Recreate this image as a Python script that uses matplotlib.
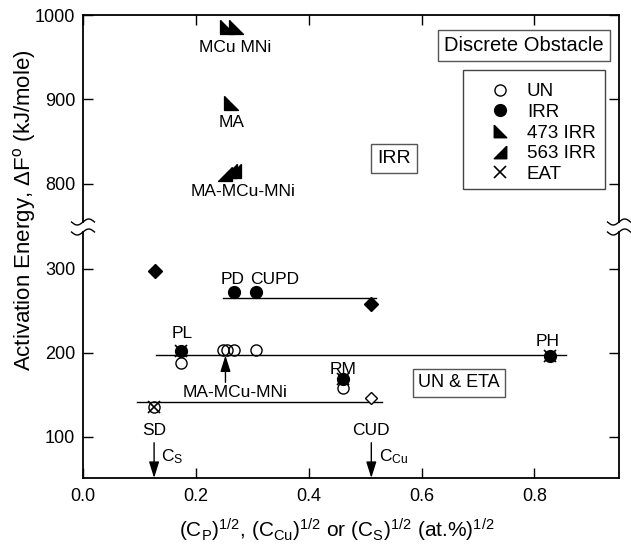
import numpy as np
import matplotlib
matplotlib.use("Agg")
import matplotlib.pyplot as plt
from matplotlib.patches import Rectangle
from matplotlib.lines import Line2D

plt.rcParams['font.family'] = ['Liberation Sans', 'DejaVu Sans']
plt.rcParams['mathtext.fontset'] = 'custom'
plt.rcParams['mathtext.rm'] = 'Liberation Sans'
plt.rcParams['mathtext.it'] = 'Liberation Sans:italic'

# ---------------- data ----------------
# lower panel (kJ/mole)
un_x = [0.173, 0.248, 0.256, 0.268, 0.307, 0.460, 0.126]
un_y = [188.5, 203, 203, 203, 203, 158, 136]
irr_x = [0.267, 0.307, 0.173, 0.460, 0.827]
irr_y = [272, 272, 202, 169, 196]
eat_x = [0.173, 0.460, 0.827, 0.126]
eat_y = [202, 169, 196, 136]
dia_fill_x = [0.127, 0.511]
dia_fill_y = [298, 258]
dia_open_x = [0.511]
dia_open_y = [146]
# upper panel
irr473_x = [0.255, 0.272, 0.262]
irr473_y = [986, 986, 896]
irr563_x = [0.251, 0.260, 0.268]
irr563_y = [812, 815, 815]
# horizontal guide lines
guide_y = [265, 197, 141]
guide_x0 = [0.248, 0.129, 0.096]
guide_x1 = [0.520, 0.856, 0.530]

xticks = [0.0, 0.2, 0.4, 0.6, 0.8]
xticklabels = ["0.0", "0.2", "0.4", "0.6", "0.8"]
low_yticks = [100, 200, 300]
up_yticks = [800, 900, 1000]

W, H = 631, 545
fig = plt.figure(figsize=(W / 100, H / 100), dpi=100)

def fx(px):
    return px / W

def fy(py):
    return 1 - py / H

L, R = fx(83), fx(619)
ax_up = fig.add_axes([L, fy(222), R - L, fy(15) - fy(222)])
ax_lo = fig.add_axes([L, fy(478), R - L, fy(232) - fy(478)])

for ax in (ax_up, ax_lo):
    ax.set_xlim(0, 0.95)
    for s in ax.spines.values():
        s.set_linewidth(1.3)
    ax.tick_params(direction='in', length=7.2, width=1.0, labelsize=13, pad=5.5,
                   right=True, top=True)
    ax.tick_params(axis='x', pad=7.5)
    ax.set_xticks(xticks)

ax_up.set_ylim(755, 1000)
ax_lo.set_ylim(51, 344)
ax_up.spines['bottom'].set_visible(False)
ax_lo.spines['top'].set_visible(False)
ax_up.tick_params(bottom=False, labelbottom=False, top=True)
ax_lo.tick_params(top=False, bottom=True)
ax_lo.set_xticklabels(xticklabels)
ax_up.set_yticks(up_yticks)
ax_lo.set_yticks(low_yticks)

# --- lower panel marks
for y, x0, x1 in zip(guide_y, guide_x0, guide_x1):
    ax_lo.plot([x0, x1], [y, y], color='black', lw=1.0, zorder=2)

ax_lo.plot(un_x, un_y, 'o', ms=8, mfc='none', mec='black', mew=1.0, zorder=3)
ax_lo.plot(irr_x, irr_y, 'o', ms=8.5, mfc='black', mec='black', zorder=4)
ax_lo.plot(eat_x, eat_y, 'x', ms=9, mec='black', mew=1.2, zorder=5)
ax_lo.plot(dia_fill_x, dia_fill_y, 'D', ms=7, mfc='black', mec='black', zorder=4)
ax_lo.plot(dia_open_x, dia_open_y, 'D', ms=6.5, mfc='white', mec='black', mew=1.0, zorder=4)

# --- upper panel marks
m473 = [(-1, 1), (-1, -1), (1, -1), (-1, 1)]
m563 = [(1, 1), (1, -1), (-1, -1), (1, 1)]
ax_up.plot(irr473_x, irr473_y, linestyle='none', marker=m473, ms=10, mfc='black', mec='black', zorder=4)
ax_up.plot(irr563_x, irr563_y, linestyle='none', marker=m563, ms=10, mfc='black', mec='black', zorder=4)

# --- annotations
fs = 12.5
ax_up.text(0.269, 961, "MCu MNi", ha='center', va='center', fontsize=fs)
ax_up.text(0.264, 873, "MA", ha='center', va='center', fontsize=fs)
ax_up.text(0.284, 791, "MA-MCu-MNi", ha='center', va='center', fontsize=fs)
ax_up.text(0.551, 830, "IRR", ha='center', va='center', fontsize=14,
           bbox=dict(boxstyle='square,pad=0.3', fc='white', ec='#555555', lw=1.0))
ax_up.text(0.781, 964, "Discrete Obstacle", ha='center', va='center', fontsize=14.5,
           bbox=dict(boxstyle='square,pad=0.3', fc='white', ec='#555555', lw=1.0))

ax_lo.text(0.266, 288, "PD", ha='center', va='center', fontsize=fs)
ax_lo.text(0.340, 288, "CUPD", ha='center', va='center', fontsize=fs)
ax_lo.text(0.176, 223, "PL", ha='center', va='center', fontsize=fs)
ax_lo.text(0.461, 180, "RM", ha='center', va='center', fontsize=fs)
ax_lo.text(0.824, 213, "PH", ha='center', va='center', fontsize=fs)
ax_lo.text(0.270, 153, "MA-MCu-MNi", ha='center', va='center', fontsize=fs)
ax_lo.text(0.126, 107, "SD", ha='center', va='center', fontsize=fs)
ax_lo.text(0.511, 107, "CUD", ha='center', va='center', fontsize=fs)
ax_lo.text(0.139, 76, r"C$_\mathregular{S}$", ha='left', va='center', fontsize=fs)
ax_lo.text(0.524, 76, r"C$_\mathregular{Cu}$", ha='left', va='center', fontsize=fs)
ax_lo.text(0.666, 164.5, "UN & ETA", ha='center', va='center', fontsize=13,
           bbox=dict(boxstyle='square,pad=0.3', fc='white', ec='#555555', lw=1.0))

arrow = dict(arrowstyle='-|>,head_length=0.7,head_width=0.22', color='black', lw=1.0,
             shrinkA=0, shrinkB=0, mutation_scale=14)
ax_lo.annotate('', xy=(0.126, 51), xytext=(0.126, 93), arrowprops=arrow)
ax_lo.annotate('', xy=(0.511, 51), xytext=(0.511, 93), arrowprops=arrow)
ax_lo.annotate('', xy=(0.2525, 197), xytext=(0.2525, 165), arrowprops=arrow)

# --- axis labels
fig.text(fx(337), fy(538),
         r"(C$_\mathregular{P}$)$^\mathregular{1/2}$, (C$_\mathregular{Cu}$)$^\mathregular{1/2}$ or "
         r"(C$_\mathregular{S}$)$^\mathregular{1/2}$ (at.%)$^\mathregular{1/2}$",
         ha='center', va='baseline', fontsize=15)
fig.text(fx(25), fy(210), r"Activation Energy, $\Delta$F$^\mathregular{o}$ (kJ/mole)",
         rotation=90, ha='center', va='center', fontsize=16)

# --- legend
handles = [
    Line2D([], [], ls='none', marker='o', ms=8, mfc='none', mec='black'),
    Line2D([], [], ls='none', marker='o', ms=8.5, mfc='black', mec='black'),
    Line2D([], [], ls='none', marker=m473, ms=9, mfc='black', mec='black'),
    Line2D([], [], ls='none', marker=m563, ms=9, mfc='black', mec='black'),
    Line2D([], [], ls='none', marker='x', ms=9, mec='black', mew=1.2),
]
labels = ["UN", "IRR", "473 IRR", "563 IRR", "EAT"]
leg = fig.legend(handles, labels, loc='upper left', bbox_to_anchor=(fx(481), fy(83)),
                 frameon=False, borderpad=0, borderaxespad=0, handlelength=2.0,
                 handletextpad=0.45, labelspacing=0.19, fontsize=13.5)
fig.add_artist(Rectangle((fx(463), fy(189)), fx(605) - fx(463), fy(70) - fy(189),
                         transform=fig.transFigure, fill=False, ec='#444444', lw=1.0))

# --- axis break marks
t = np.linspace(-1, 1, 40)
for xs in (83, 619):
    for yb in (222, 232):
        xs_px = xs + 11.5 * t
        ys_px = yb - 3.0 * np.sin(np.pi * t)
        fig.add_artist(Line2D(xs_px / W, 1 - ys_px / H, transform=fig.transFigure,
                              color='black', lw=1.0))

fig.savefig("out.png", dpi=100)
